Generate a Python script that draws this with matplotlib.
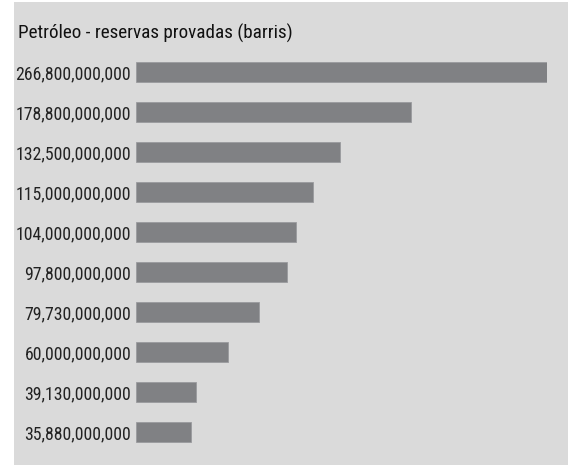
import matplotlib.pyplot as plt
from matplotlib.patches import Rectangle

# Proved oil reserves (barrels)
reserves = [266800000000, 178800000000, 132500000000, 115000000000, 104000000000,
            97800000000, 79730000000, 60000000000, 39130000000, 35880000000]
labels = ['266,800,000,000', '178,800,000,000', '132,500,000,000', '115,000,000,000',
          '104,000,000,000', '97,800,000,000', '79,730,000,000', '60,000,000,000',
          '39,130,000,000', '35,880,000,000']
title = 'Petróleo - reservas provadas (barris)'

W, H = 568, 465
plt.rcParams['font.family'] = ['Roboto Condensed', 'DejaVu Sans']

fig = plt.figure(figsize=(W / 100, H / 100), dpi=100)
fig.patch.set_facecolor('white')

# gray panel behind everything
fig.patches.append(Rectangle((14 / W, 0), 1 - 14 / W, 1 - 2 / H, transform=fig.transFigure,
                             facecolor='#dadada', edgecolor='none', zorder=-1))

ax = fig.add_axes([136 / W, 1 - 452 / H, (547 - 136) / W, (452 - 52) / H])
ax.set_facecolor('none')

pos = list(range(len(reserves)))
ax.barh(pos, reserves, height=0.5, color='#808184', edgecolor='#9a9b9e', linewidth=0.6)
ax.set_xlim(0, max(reserves))
ax.set_ylim(len(reserves) - 0.5, -0.5)

ax.set_yticks(pos)
ax.set_yticklabels(labels, fontsize=12.8, color='#222222')
ax.tick_params(axis='y', length=0, pad=3.5)
ax.set_xticks([])
for s in ax.spines.values():
    s.set_visible(False)

fig.text(18 / W, 1 - 33 / H, title, fontsize=13.8, color='#111111', va='center', ha='left')

fig.savefig('out.png', dpi=100)
